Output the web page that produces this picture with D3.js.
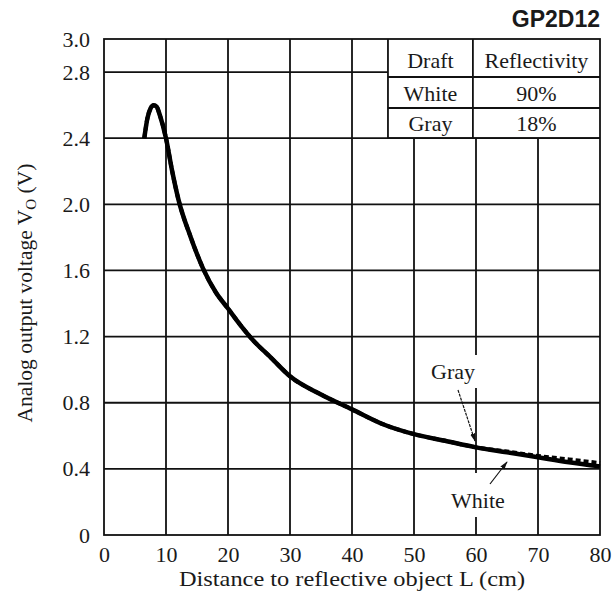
<!DOCTYPE html>
<html>
<head>
<meta charset="utf-8">
<script src="https://cdn.jsdelivr.net/npm/d3@7"></script>
<style>
  body { margin: 0; background: #fff; }
  svg text { font-family: "Liberation Serif", "Times New Roman", serif; fill: #1a1a1a; }
</style>
</head>
<body>
<div id="chart"></div>
<script>
// distance L (cm) and output voltage (V)
var distance = [6.5, 7, 7.5, 8, 8.5, 9, 10, 11, 12, 14, 16, 18, 20, 22, 24, 27, 30, 35, 40, 45, 50, 55, 60, 65, 70, 75, 80];
var whiteV   = [2.40, 2.52, 2.58, 2.60, 2.59, 2.54, 2.40, 2.20, 2.03, 1.80, 1.61, 1.47, 1.37, 1.27, 1.18, 1.07, 0.96, 0.85, 0.76, 0.67, 0.61, 0.57, 0.53, 0.50, 0.47, 0.44, 0.415];
var grayV    = [2.40, 2.52, 2.58, 2.60, 2.59, 2.54, 2.40, 2.20, 2.03, 1.80, 1.61, 1.47, 1.37, 1.27, 1.18, 1.07, 0.96, 0.85, 0.76, 0.67, 0.61, 0.57, 0.53, 0.505, 0.478, 0.457, 0.435];

var xTicks = [0, 10, 20, 30, 40, 50, 60, 70, 80];
var yTicks = [0, 0.4, 0.8, 1.2, 1.6, 2.0, 2.4, 2.8, 3.0];
var yTickLabels = ["0", "0.4", "0.8", "1.2", "1.6", "2.0", "2.4", "2.8", "3.0"];

var tableHead = ["Draft", "Reflectivity"];
var tableRows = [["White", "90%"], ["Gray", "18%"]];

var width = 613, height = 608;
var margin = {top: 39, right: 13, bottom: 73, left: 104};
var fs = 22;

var svg = d3.select("#chart").append("svg")
    .attr("width", width)
    .attr("height", height);

var x = d3.scaleLinear().domain([0, 80]).range([margin.left, width - margin.right]);
var y = d3.scaleLinear().domain([0, 3]).range([height - margin.bottom, margin.top]);

// table box: from L=45.8 to right edge, from 3.0 V down to 2.4 V
var tblLeft = x(45.8), tblMid = x(59.5), tblRight = x(80);
var tblTop = y(3.0), tblBottom = y(2.4);
var rowLines = [tblTop, 77, 108, tblBottom];

var grid = svg.append("g")
    .attr("stroke", "#111")
    .attr("stroke-width", 1.8);

// horizontal grid lines
grid.selectAll(".hline")
    .data(yTicks.filter(function(d){ return d > 0 && d < 3; }))
    .enter().append("line")
    .attr("x1", x(0))
    .attr("x2", function(d){ return d > 2.4 ? tblLeft : x(80); })
    .attr("y1", function(d){ return y(d); })
    .attr("y2", function(d){ return y(d); });

// vertical grid lines
grid.selectAll(".vline")
    .data(xTicks.filter(function(d){ return d > 0 && d < 80; }))
    .enter().append("line")
    .attr("x1", function(d){ return x(d); })
    .attr("x2", function(d){ return x(d); })
    .attr("y1", function(d){ return x(d) > tblLeft ? tblBottom : y(3); })
    .attr("y2", y(0));

// frame
grid.append("rect")
    .attr("x", x(0)).attr("y", y(3))
    .attr("width", x(80) - x(0)).attr("height", y(0) - y(3))
    .attr("fill", "none");

// table
grid.append("line").attr("x1", tblLeft).attr("x2", tblLeft).attr("y1", tblTop).attr("y2", tblBottom);
grid.append("line").attr("x1", tblMid).attr("x2", tblMid).attr("y1", tblTop).attr("y2", tblBottom);
grid.selectAll(".trow")
    .data(rowLines.slice(1))
    .enter().append("line")
    .attr("x1", tblLeft).attr("x2", tblRight)
    .attr("y1", function(d){ return d; }).attr("y2", function(d){ return d; });

var cells = [tableHead].concat(tableRows);
var baselines = [68, 101, 131];
cells.forEach(function(row, i) {
    svg.append("text")
        .attr("x", (tblLeft + tblMid) / 2).attr("y", baselines[i])
        .attr("text-anchor", "middle").attr("font-size", fs)
        .text(row[0]);
    svg.append("text")
        .attr("x", (tblMid + tblRight) / 2).attr("y", baselines[i])
        .attr("text-anchor", "middle").attr("font-size", fs)
        .text(row[1]);
});

// white gaps behind the curve labels (the 60 cm grid line is broken there)
svg.append("rect").attr("x", 466).attr("y", 355).attr("width", 20).attr("height", 33).attr("fill", "#fff");
svg.append("rect").attr("x", 466).attr("y", 473).attr("width", 20).attr("height", 44).attr("fill", "#fff");

// curves
var line = d3.line()
    .x(function(d){ return x(d[0]); })
    .y(function(d){ return y(d[1]); })
    .curve(d3.curveMonotoneX);

svg.append("path")
    .datum(d3.zip(distance, whiteV))
    .attr("d", line)
    .attr("fill", "none")
    .attr("stroke", "#000")
    .attr("stroke-width", 4.5)
    .attr("stroke-linejoin", "round");

svg.append("path")
    .datum(d3.zip(distance, grayV))
    .attr("d", line)
    .attr("fill", "none")
    .attr("stroke", "#000")
    .attr("stroke-width", 4)
    .attr("stroke-dasharray", "5,3");

// curve labels and pointers
svg.append("defs").append("marker")
    .attr("id", "arr")
    .attr("viewBox", "0 0 10 10")
    .attr("refX", 9).attr("refY", 5)
    .attr("markerWidth", 7).attr("markerHeight", 7)
    .attr("orient", "auto")
    .append("path").attr("d", "M0,2 L10,5 L0,8 Z").attr("fill", "#111");

svg.append("text").attr("x", 453).attr("y", 379)
    .attr("text-anchor", "middle").attr("font-size", fs).text("Gray");
svg.append("line")
    .attr("x1", 458).attr("y1", 390).attr("x2", 475).attr("y2", 441)
    .attr("stroke", "#111").attr("stroke-width", 1.2).attr("stroke-dasharray", "3,1")
    .attr("marker-end", "url(#arr)");

svg.append("text").attr("x", 478).attr("y", 508)
    .attr("text-anchor", "middle").attr("font-size", fs).text("White");
svg.append("line")
    .attr("x1", 490).attr("y1", 484).attr("x2", 507).attr("y2", 462)
    .attr("stroke", "#111").attr("stroke-width", 1.2)
    .attr("marker-end", "url(#arr)");

// tick labels
svg.append("g")
    .attr("transform", "translate(0," + (y(0) + 8) + ")")
    .call(d3.axisBottom(x).tickValues(xTicks).tickSize(0).tickFormat(d3.format("d")))
    .call(function(g){ g.select(".domain").remove(); })
    .selectAll("text")
    .attr("font-size", fs)
    .attr("font-family", "Liberation Serif, serif")
    .attr("fill", "#1a1a1a");

svg.append("g")
    .attr("transform", "translate(" + (x(0) - 11) + ",0)")
    .call(d3.axisLeft(y).tickValues(yTicks).tickSize(0).tickFormat(function(d, i){ return yTickLabels[i]; }))
    .call(function(g){ g.select(".domain").remove(); })
    .selectAll("text")
    .attr("font-size", fs)
    .attr("font-family", "Liberation Serif, serif")
    .attr("fill", "#1a1a1a");

// axis titles
svg.append("text")
    .attr("x", 352).attr("y", 586)
    .attr("text-anchor", "middle").attr("font-size", 21)
    .attr("textLength", 346).attr("lengthAdjust", "spacingAndGlyphs")
    .text("Distance to reflective object L (cm)");

var yt = svg.append("text")
    .attr("transform", "translate(32,293) rotate(-90)")
    .attr("text-anchor", "middle").attr("font-size", 21.5);
yt.append("tspan").text("Analog output voltage V");
yt.append("tspan").attr("font-size", 15).attr("dy", 4).text("O");
yt.append("tspan").attr("dy", -4).text(" (V)");

// part number
svg.append("text")
    .attr("x", x(80)).attr("y", 27)
    .attr("text-anchor", "end")
    .attr("font-size", 23)
    .attr("font-weight", "bold")
    .style("font-family", "Liberation Sans, Arial, sans-serif")
    .text("GP2D12");
</script>
</body>
</html>
